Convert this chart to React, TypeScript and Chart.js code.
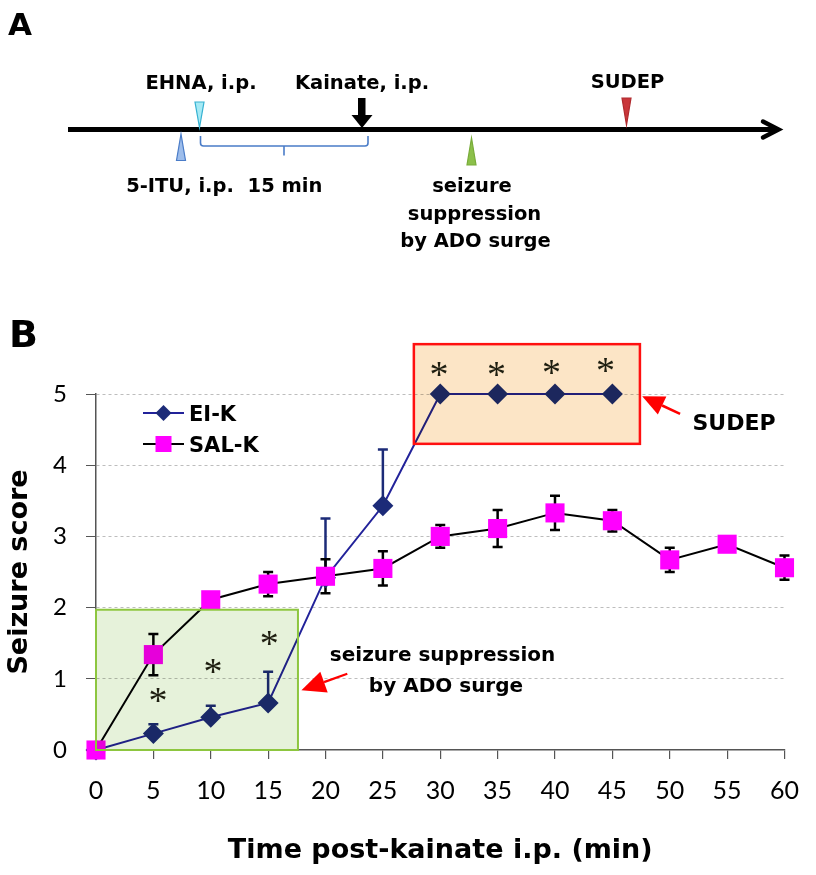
import React, { useEffect, useRef } from 'react';
import { Chart, registerables } from 'chart.js';

Chart.register(...registerables);

// ---- data ----
const salKTimes = [0, 5, 10, 15, 20, 25, 30, 35, 40, 45, 50, 55, 60];
const salKScore = [0, 1.34, 2.11, 2.33, 2.44, 2.55, 3.0, 3.11, 3.33, 3.22, 2.67, 2.89, 2.56];
const salKErr = [0, 0.29, 0, 0.17, 0.24, 0.24, 0.16, 0.26, 0.24, 0.15, 0.17, 0, 0.17];

const eiKTimes = [0, 5, 10, 15, 20, 25, 30, 35, 40, 45];
const eiKScore = [0, 0.23, 0.46, 0.66, 2.42, 3.43, 5, 5, 5, 5];
const eiKErr = [0, 0.13, 0.16, 0.44, 0.83, 0.79, 0, 0, 0, 0];

const sigTimes = [5.4, 10.2, 15.1, 29.9, 34.9, 39.7, 44.4];
const sigHeights = [0.76, 1.17, 1.56, 5.34, 5.35, 5.37, 5.4];

const seriesNames = ['EI-K', 'SAL-K'];
const xTitle = 'Time post-kainate i.p. (min)';
const yTitle = 'Seizure score';

// annotation regions (data units)
const greenBox = { x0: 0, x1: 17.6, y0: 0, y1: 1.97 };
const redBox = { x0: 27.7, x1: 47.4, y0: 4.3, y1: 5.7 };
const greenArrow = { tipX: 17.9, tipY: 0.84, tailX: 21.9, tailY: 1.07 };
const sudepArrow = { tipX: 47.6, tipY: 4.97, tailX: 50.9, tailY: 4.72 };

const EI_LINE = '#22229A';
const EI_MARK = '#1C2B78';
const SAL_MARK = '#FF00FF';
const BOLD = '"DejaVu Sans", sans-serif';

function drawArrow(ctx: CanvasRenderingContext2D, tx: number, ty: number, sx: number, sy: number, headLen: number, headHalf: number, color: string, lw: number) {
  const ang = Math.atan2(ty - sy, tx - sx);
  const bx = tx - headLen * Math.cos(ang);
  const by = ty - headLen * Math.sin(ang);
  ctx.save();
  ctx.strokeStyle = color;
  ctx.lineWidth = lw;
  ctx.beginPath();
  ctx.moveTo(sx, sy);
  ctx.lineTo(bx, by);
  ctx.stroke();
  ctx.fillStyle = color;
  ctx.beginPath();
  ctx.moveTo(tx, ty);
  ctx.lineTo(bx + headHalf * Math.sin(ang), by - headHalf * Math.cos(ang));
  ctx.lineTo(bx - headHalf * Math.sin(ang), by + headHalf * Math.cos(ang));
  ctx.closePath();
  ctx.fill();
  ctx.restore();
}

function text(ctx: CanvasRenderingContext2D, s: string, x: number, y: number, font: string, align: CanvasTextAlign = 'center', color = '#000') {
  ctx.font = font;
  ctx.fillStyle = color;
  ctx.textAlign = align;
  ctx.textBaseline = 'alphabetic';
  ctx.fillText(s, x, y);
}

function triangle(ctx: CanvasRenderingContext2D, cx: number, baseY: number, tipY: number, half: number, fill: string, stroke: string) {
  ctx.save();
  ctx.beginPath();
  ctx.moveTo(cx - half, baseY);
  ctx.lineTo(cx + half, baseY);
  ctx.lineTo(cx, tipY);
  ctx.closePath();
  ctx.fillStyle = fill;
  ctx.fill();
  ctx.strokeStyle = stroke;
  ctx.lineWidth = 1.2;
  ctx.stroke();
  ctx.restore();
}

function drawPanelA(ctx: CanvasRenderingContext2D) {
  ctx.save();
  text(ctx, 'A', 8, 35, `bold 31px ${BOLD}`, 'left');
  // timeline
  ctx.strokeStyle = '#000';
  ctx.lineWidth = 5;
  ctx.lineCap = 'butt';
  ctx.beginPath();
  ctx.moveTo(68, 129.5);
  ctx.lineTo(777, 129.5);
  ctx.stroke();
  ctx.lineCap = 'round';
  ctx.lineJoin = 'miter';
  ctx.lineWidth = 4.5;
  ctx.beginPath();
  ctx.moveTo(763, 121.5);
  ctx.lineTo(778.5, 129.5);
  ctx.lineTo(763, 137.5);
  ctx.stroke();
  ctx.lineCap = 'butt';

  // markers
  triangle(ctx, 199.5, 102, 127.5, 4.5, '#A6EAF5', '#36B2D2');
  triangle(ctx, 181, 160.5, 134, 4.5, '#9DBDEB', '#4A7CC8');
  triangle(ctx, 626.5, 98, 125, 4.5, '#C9363A', '#B02A2E');
  triangle(ctx, 471.5, 165, 138, 4.5, '#8CC04A', '#79AC3A');

  // black kainate arrow
  ctx.fillStyle = '#000';
  ctx.fillRect(358, 98, 7.5, 18);
  ctx.beginPath();
  ctx.moveTo(351.5, 115);
  ctx.lineTo(372.5, 115);
  ctx.lineTo(362, 128);
  ctx.closePath();
  ctx.fill();

  // brace
  ctx.strokeStyle = '#4A7CC8';
  ctx.lineWidth = 1.6;
  ctx.beginPath();
  ctx.moveTo(200.5, 136);
  ctx.lineTo(200.5, 143);
  ctx.quadraticCurveTo(200.5, 146, 203.5, 146);
  ctx.lineTo(365, 146);
  ctx.quadraticCurveTo(368, 146, 368, 143);
  ctx.lineTo(368, 136);
  ctx.moveTo(284, 146);
  ctx.lineTo(284, 155.5);
  ctx.stroke();

  const f = `bold 19.5px ${BOLD}`;
  text(ctx, 'EHNA, i.p.', 201, 89, f);
  text(ctx, 'Kainate, i.p.', 362, 89, f);
  text(ctx, 'SUDEP', 627.5, 88, f);
  text(ctx, '5-ITU, i.p.', 180, 191.5, f);
  text(ctx, '15 min', 285, 191.5, f);
  text(ctx, 'seizure', 472, 191.5, f);
  text(ctx, 'suppression', 474.5, 219.5, f);
  text(ctx, 'by ADO surge', 475.5, 246.5, f);
  ctx.restore();
}

const overlayPlugin = {
  id: 'overlay',
  beforeDatasetsDraw(chart: any) {
    const ctx: CanvasRenderingContext2D = chart.ctx;
    const xs = chart.scales.x;
    const ys = chart.scales.y;
    ctx.save();
    const bar = (t: number, lo: number, hi: number, color: string, capLo: boolean) => {
      const px = xs.getPixelForValue(t);
      const p1 = ys.getPixelForValue(lo);
      const p2 = ys.getPixelForValue(hi);
      ctx.strokeStyle = color;
      ctx.lineWidth = 2.5;
      ctx.beginPath();
      ctx.moveTo(px, p1);
      ctx.lineTo(px, p2);
      ctx.moveTo(px - 5, p2);
      ctx.lineTo(px + 5, p2);
      if (capLo) {
        ctx.moveTo(px - 5, p1);
        ctx.lineTo(px + 5, p1);
      }
      ctx.stroke();
    };
    eiKTimes.forEach((t, i) => {
      if (eiKErr[i] > 0) bar(t, eiKScore[i], eiKScore[i] + eiKErr[i], EI_MARK, false);
    });
    salKTimes.forEach((t, i) => {
      if (salKErr[i] > 0) bar(t, salKScore[i] - salKErr[i], salKScore[i] + salKErr[i], '#000', true);
    });
    ctx.restore();
  },
  afterDatasetsDraw(chart: any) {
    const ctx: CanvasRenderingContext2D = chart.ctx;
    const xs = chart.scales.x;
    const ys = chart.scales.y;
    const X = (v: number) => xs.getPixelForValue(v);
    const Y = (v: number) => ys.getPixelForValue(v);
    ctx.save();
    // boxes (multiply so underlying marks show through tinted)
    const box = (b: any, fill: string, stroke: string, lw: number) => {
      const x0 = X(b.x0), x1 = X(b.x1), y0 = Y(b.y1), y1 = Y(b.y0);
      ctx.save();
      ctx.globalCompositeOperation = 'multiply';
      ctx.fillStyle = fill;
      ctx.fillRect(x0, y0, x1 - x0, y1 - y0);
      ctx.restore();
      ctx.strokeStyle = stroke;
      ctx.lineWidth = lw;
      ctx.strokeRect(x0, y0, x1 - x0, y1 - y0);
    };
    box(greenBox, '#E6F2DA', '#8DC63F', 2);
    box(redBox, '#FCE5C6', '#FF1010', 2.5);

    // significance asterisks
    ctx.font = '38px "Liberation Serif", serif';
    ctx.fillStyle = '#1E1E10';
    ctx.textAlign = 'left';
    ctx.textBaseline = 'alphabetic';
    const m = ctx.measureText('*');
    sigTimes.forEach((t, i) => {
      const px = X(t), py = Y(sigHeights[i]);
      ctx.fillText('*', px - (m.actualBoundingBoxRight - m.actualBoundingBoxLeft) / 2, py + (m.actualBoundingBoxAscent - m.actualBoundingBoxDescent) / 2);
    });

    // arrows
    drawArrow(ctx, X(greenArrow.tipX), Y(greenArrow.tipY), X(greenArrow.tailX), Y(greenArrow.tailY), 24, 11, '#FF0000', 2.2);
    drawArrow(ctx, X(sudepArrow.tipX), Y(sudepArrow.tipY), X(sudepArrow.tailX), Y(sudepArrow.tailY), 22, 10, '#FF0000', 2.5);

    // annotation text
    text(ctx, 'seizure suppression', X(30.2), Y(1.25), `bold 20px ${BOLD}`);
    text(ctx, 'by ADO surge', X(30.5), Y(0.82), `bold 20px ${BOLD}`);
    text(ctx, 'SUDEP', X(55.6), Y(4.49), `bold 22px ${BOLD}`);

    // legend
    const ca = chart.chartArea;
    const lx0 = ca.left + 47, lx1 = ca.left + 88, lmx = (lx0 + lx1) / 2, ltx = ca.left + 93;
    const ly = [ca.top + 19, ca.top + 50];
    ctx.lineWidth = 2;
    ctx.strokeStyle = EI_LINE;
    ctx.beginPath(); ctx.moveTo(lx0, ly[0]); ctx.lineTo(lx1, ly[0]); ctx.stroke();
    ctx.fillStyle = EI_MARK;
    ctx.beginPath();
    ctx.moveTo(lmx - 8, ly[0]); ctx.lineTo(lmx, ly[0] - 8); ctx.lineTo(lmx + 8, ly[0]); ctx.lineTo(lmx, ly[0] + 8);
    ctx.closePath(); ctx.fill();
    ctx.strokeStyle = '#000';
    ctx.beginPath(); ctx.moveTo(lx0, ly[1]); ctx.lineTo(lx1, ly[1]); ctx.stroke();
    ctx.fillStyle = SAL_MARK;
    ctx.fillRect(lmx - 8, ly[1] - 8, 16, 16);
    ctx.font = `bold 21px ${BOLD}`;
    const cap = ctx.measureText('E').actualBoundingBoxAscent;
    seriesNames.forEach((n, i) => text(ctx, n, ltx, ly[i] + cap / 2, `bold 21px ${BOLD}`, 'left'));
    ctx.restore();
  },
  afterDraw(chart: any) {
    const ctx: CanvasRenderingContext2D = chart.ctx;
    ctx.save();
    drawPanelA(ctx);
    text(ctx, 'B', 9, 347, `bold 38px ${BOLD}`, 'left');
    ctx.restore();
  },
};

export default function App() {
  const ref = useRef<HTMLCanvasElement | null>(null);
  useEffect(() => {
    document.body.style.margin = '0';
    const canvas = ref.current;
    if (!canvas) return;
    const chart = new Chart(canvas, {
      type: 'line',
      data: {
        datasets: [
          {
            label: seriesNames[1],
            data: salKTimes.map((t, i) => ({ x: t, y: salKScore[i] })),
            borderColor: '#000',
            borderWidth: 2,
            pointStyle: 'rect',
            pointRadius: 13.5,
            pointBackgroundColor: SAL_MARK,
            pointBorderColor: SAL_MARK,
            pointBorderWidth: 0,
            tension: 0,
            clip: false,
          } as any,
          {
            label: seriesNames[0],
            data: eiKTimes.map((t, i) => ({ x: t, y: eiKScore[i] })),
            borderColor: EI_LINE,
            borderWidth: 2,
            pointStyle: 'rectRot',
            pointRadius: 10.5,
            pointBackgroundColor: EI_MARK,
            pointBorderColor: EI_MARK,
            pointBorderWidth: 0,
            tension: 0,
            clip: false,
          } as any,
        ],
      },
      options: {
        animation: false,
        responsive: false,
        events: [],
        layout: { padding: { top: 394, left: 0, right: 19, bottom: 0 } },
        plugins: {
          legend: { display: false },
          tooltip: { enabled: false },
          title: { display: false },
        },
        scales: {
          x: {
            type: 'linear',
            min: 0,
            max: 60,
            afterFit(s: any) { s.height = 125; },
            ticks: { stepSize: 5, autoSkip: false, maxRotation: 0, padding: 17, color: '#000', font: { family: 'Lato', size: 25 } },
            grid: { drawOnChartArea: false, tickLength: 9, color: '#555', tickColor: '#555', lineWidth: 1.2 },
            border: { color: '#555', width: 1.5 },
            title: { display: true, text: xTitle, color: '#000', font: { family: 'DejaVu Sans', size: 27, weight: 'bold' }, padding: { top: 0, bottom: 8 } },
          },
          y: {
            type: 'linear',
            min: 0,
            max: 5,
            afterFit(s: any) { s.width = 96; },
            ticks: { stepSize: 1, padding: 19, color: '#000', font: { family: 'Lato', size: 24 } },
            grid: {
              color: (c: any) => (c.tick && c.tick.value === 0 ? 'rgba(0,0,0,0)' : '#BDBDBD'),
              tickColor: '#555',
              tickLength: 10,
              lineWidth: 1,
            },
            border: { color: '#555', width: 1.5, dash: [3, 3] },
            title: { display: true, text: yTitle, color: '#000', font: { family: 'DejaVu Sans', size: 27, weight: 'bold' }, padding: { top: 4, bottom: 0 } },
          },
        },
      } as any,
      plugins: [overlayPlugin],
    });
    return () => chart.destroy();
  }, []);
  return (
    <div style={{ width: 816, height: 875 }}>
      <canvas ref={ref} width={816} height={875} style={{ display: 'block' }} />
    </div>
  );
}
